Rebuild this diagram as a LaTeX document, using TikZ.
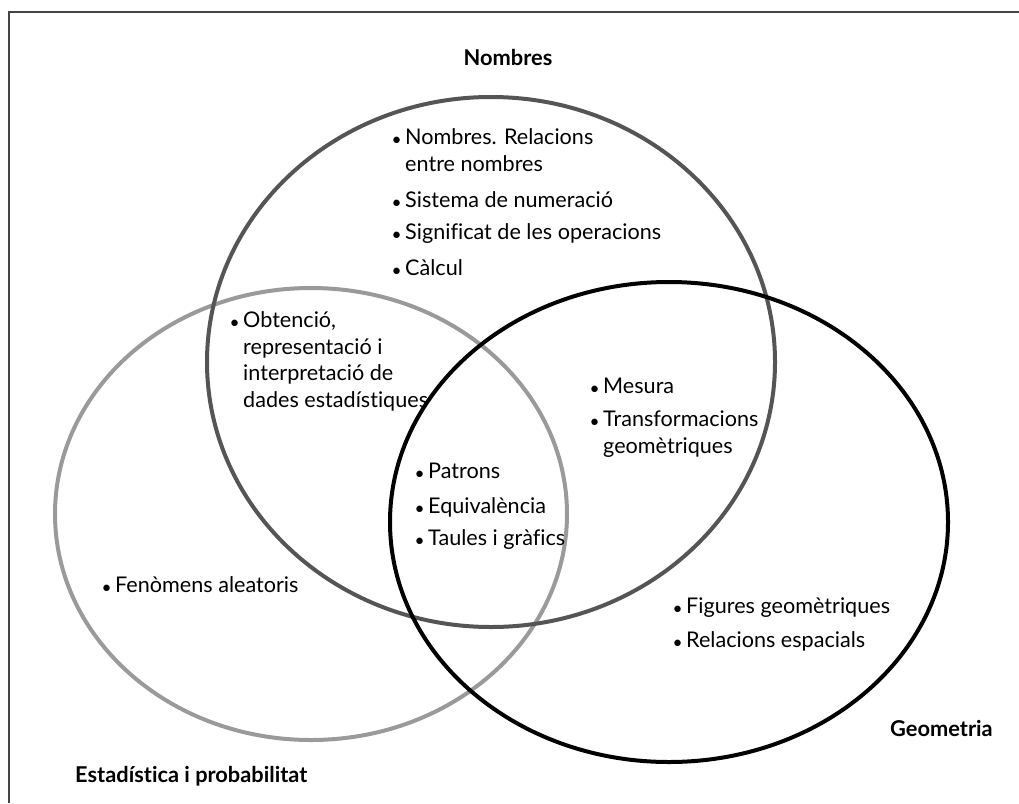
\documentclass[tikz,border=0pt]{standalone}
\usepackage{fontspec}
\setmainfont[Ligatures=NoCommon]{Lato}
\definecolor{numcol}{HTML}{555555}
\definecolor{estcol}{HTML}{9A9A9A}
\definecolor{geocol}{HTML}{000000}
\definecolor{framecol}{HTML}{444444}
\newcommand{\bul}{\llap{\raisebox{-1pt}{\scalebox{0.8}{•}}\hspace{3.5pt}}}
\begin{document}
\begin{tikzpicture}[x=1pt,y=-1pt,
  itemtxt/.style={anchor=base west, align=left, inner sep=0pt,
    font=\fontsize{21.6}{26.5}\selectfont},
  settitle/.style={inner sep=0pt, font=\fontsize{21.8}{25}\selectfont\bfseries},
  setline/.style={line width=4pt}]
\useasboundingbox (0,0) rectangle (1019,803);
\draw[framecol, line width=2pt] (8.5,803) -- (8.5,11.5) -- (1019,11.5);
% ellipses
\draw[setline, estcol] (311,514) ellipse [x radius=256pt, y radius=226pt];
\draw[setline, numcol] (491,362) ellipse [x radius=284pt, y radius=265pt];
\draw[setline, geocol] (669,522) ellipse [x radius=279pt, y radius=240pt];
% titles
\node[settitle, anchor=base] (tnum) at (508,65) {Nombres};
\node[settitle, anchor=base west] (tgeo) at (890,736) {Geometria};
\node[settitle, anchor=base west] (test) at (75,782) {Estadística i probabilitat};
% Nombres items (base anchor = baseline of last line)
\node[itemtxt] (n1) at (405,171) {\bul Nombres. Relacions\\entre nombres};
\node[itemtxt] (n2) at (405,207) {\bul Sistema de numeració};
\node[itemtxt] (n3) at (405,239) {\bul Significat de les operacions};
\node[itemtxt] (n4) at (405,275) {\bul Càlcul};
% Nombres & Estadistica
\node[itemtxt] (ne1) at (243,407) {\bul Obtenció,\\representació i\\interpretació de\\dades estadístiques};
% Nombres & Geometria
\node[itemtxt] (ng1) at (603,393) {\bul Mesura};
\node[itemtxt] (ng2) at (603,453) {\bul Transformacions\\geomètriques};
% all three
\node[itemtxt] (a1) at (428,478) {\bul Patrons};
\node[itemtxt] (a2) at (428,513) {\bul Equivalència};
\node[itemtxt] (a3) at (428,545) {\bul Taules i gràfics};
% Estadistica
\node[itemtxt] (e1) at (115,592) {\bul Fenòmens aleatoris};
% Geometria
\node[itemtxt] (g1) at (686,613) {\bul Figures geomètriques};
\node[itemtxt] (g2) at (686,647) {\bul Relacions espacials};
\end{tikzpicture}
\end{document}
